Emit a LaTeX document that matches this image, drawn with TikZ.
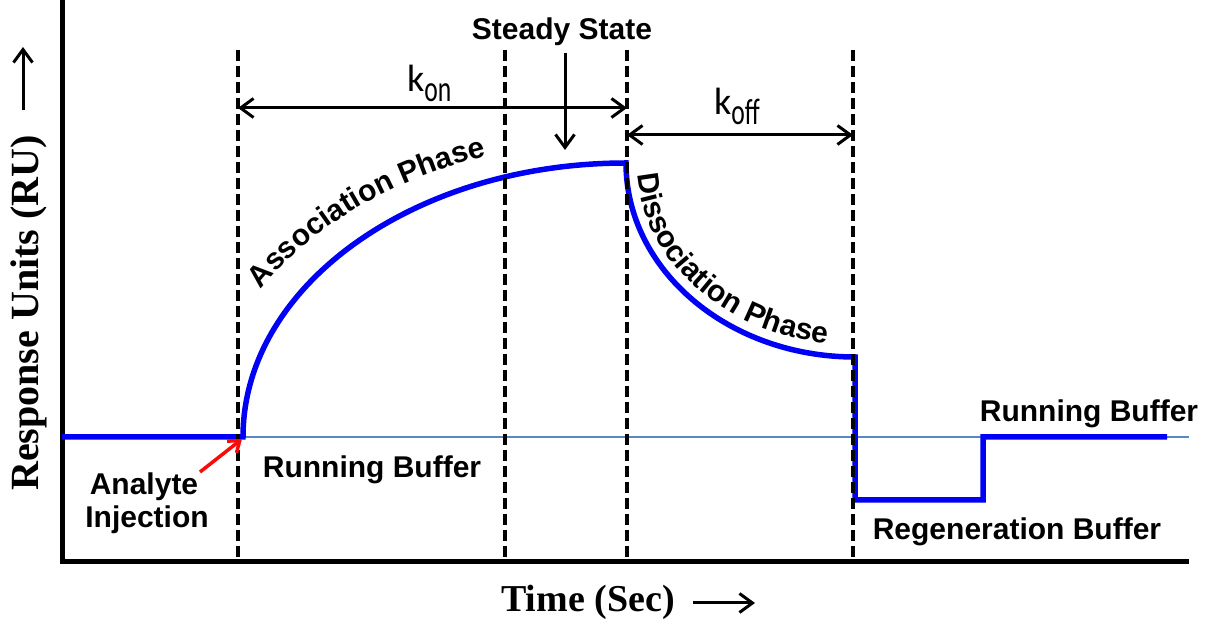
\documentclass[tikz,border=0pt]{standalone}
\usepackage{fontspec}
\usepackage{graphicx}
\setmainfont{Liberation Serif}
\newfontfamily\labsans{Liberation Sans}
\newfontfamily\kfont{Carlito}
\usetikzlibrary{arrows.meta,decorations.text}
\definecolor{curveblue}{RGB}{0,0,245}
\definecolor{baseblue}{RGB}{90,135,192}
\definecolor{arrred}{RGB}{250,10,10}
\newcommand\labfont{\labsans\bfseries\fontsize{30}{34}\selectfont}
\newcommand\axfont{\bfseries\fontsize{38}{42}\selectfont}
\newcommand\yaxfont{\bfseries\fontsize{40}{44}\selectfont}
\newcommand\kbig{\kfont\fontsize{38}{40}\selectfont}
\newcommand\ksub[1]{\raisebox{-10pt}{\kfont\fontsize{32}{34}\selectfont\scalebox{0.8}[1.15]{#1}}}
\begin{document}
\begin{tikzpicture}[x=1pt,y=1pt,
  lab/.style={font=\labfont, inner sep=0pt, anchor=base},
  axlab/.style={font=\axfont, inner sep=0pt, anchor=base},
  axline/.style={line width=5pt},
  guide/.style={line width=3.5pt, dash pattern=on 11pt off 5pt},
  barb/.tip={Straight Barb[length=13pt,width=19pt]},
  dim/.style={line width=3pt, barb-barb},
  onearrow/.style={line width=3pt, -barb},
  sig/.style={line width=5.5pt, curveblue, line join=miter},
  along/.style={decorate, decoration={text along path, text={|\labfont|#1}, text align=center}}
]
\path[use as bounding box] (0,0) rectangle (1224,631);
% axes
\coordinate (axtop) at (62,631);
\coordinate (origin) at (62,69);
\coordinate (axend) at (1189,69);
\draw[axline] (axtop) -- (origin) -- (axend);
% baseline
\coordinate (bl0) at (62,194);
\coordinate (bl1) at (1189,194);
\draw[baseblue, line width=2.5pt] (bl0) -- (bl1);
% sensorgram
\coordinate (inj) at (243,194);
\coordinate (regA) at (855,131);
\coordinate (regB) at (983,131);
\coordinate (regC) at (983,194);
\coordinate (sigend) at (1167,194);
\draw[sig] (bl0) -- (inj) arc (180:90:383 and 274) arc (180:270:229 and 194) -- (regA) -- (regB) -- (regC) -- (sigend);
% dashed guides
\foreach \n/\x in {ga/238,gb/505,gc/627,gd/853}{
  \coordinate (\n top) at (\x,581);
  \coordinate (\n bot) at (\x,69);
  \draw[guide] (\n top) -- (\n bot);
}
% kon / koff dimension arrows
\coordinate (konL) at (238,523);
\coordinate (konR) at (627,523);
\coordinate (koffL) at (627,496);
\coordinate (koffR) at (853,496);
\draw[dim] (konL) -- (konR);
\draw[dim] (koffL) -- (koffR);
\node[inner sep=0pt, anchor=base west] (kon) at (407,539) {\kbig k\ksub{on}};
\node[inner sep=0pt, anchor=base west] (koff) at (714,516) {\kbig k\ksub{off}};
% steady state
\node[lab] (ss) at (562,591) {Steady State};
\coordinate (ssA) at (565,578);
\coordinate (ssB) at (565,481);
\draw[onearrow] (ssA) -- (ssB);
% curved phase labels
\path[along={Association Phase}] (626,194) ++(152:420 and 298) arc (152:108:420 and 298);
\path[along={Dissociation Phase}] (855,468) ++(182:218 and 182) arc (182:264:218 and 182);
% buffer labels
\node[lab] (rb1) at (372,153) {Running Buffer};
\node[lab] (rb2) at (1089,209) {Running Buffer};
\node[lab] (regen) at (1017,91) {Regeneration Buffer};
\node[lab] (an1) at (144,136) {Analyte};
\node[lab] (an2) at (147,103) {Injection};
\coordinate (redA) at (200,159);
\coordinate (redB) at (242,192);
\draw[arrred, line width=3.5pt, -{Straight Barb[length=10pt,width=15pt]}] (redA) -- (redB);
% axis titles
\node[font=\yaxfont, inner sep=0pt, anchor=base, rotate=90] (ylab) at (38,318) {Response Units (RU)};
\coordinate (yarA) at (23,521);
\coordinate (yarB) at (23,584);
\draw[onearrow] (yarA) -- (yarB);
\node[axlab] (xlab) at (588,19) {Time (Sec)};
\coordinate (xarA) at (693,28);
\coordinate (xarB) at (755,28);
\draw[onearrow] (xarA) -- (xarB);
\end{tikzpicture}
\end{document}
